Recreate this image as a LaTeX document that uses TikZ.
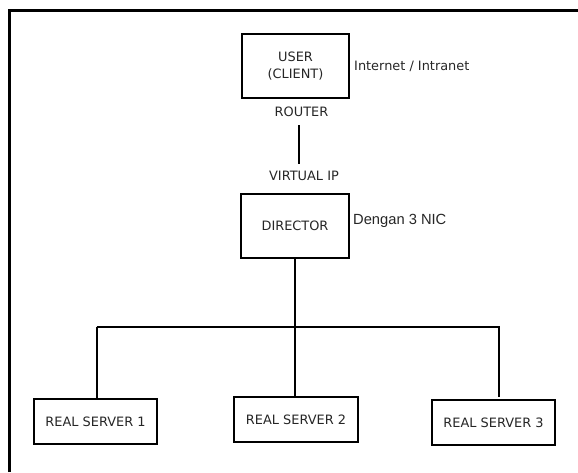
\documentclass[tikz,border=0pt]{standalone}
\usepackage{fontspec}
\setmainfont{DejaVu Sans}
\newfontfamily\arialfont{Liberation Sans}
\begin{document}
\begin{tikzpicture}[x=1pt,y=-1pt,
  box/.style={draw=black, line width=2pt, fill=white, align=center,
    text=black!85, font=\fontsize{12.9}{17}\selectfont, inner sep=0pt},
  lbl/.style={text=black!85, font=\fontsize{12.9}{15}\selectfont, inner sep=0pt},
  link/.style={draw=black, line width=2pt}]
  % canvas and frame
  \useasboundingbox (0,0) rectangle (578,472);
  \draw[line width=3pt] (9.5,472) -- (9.5,10.5) -- (578,10.5);

  % boxes
  \node[box, minimum width=107pt, minimum height=64pt] (user) at (295.5,66) {USER\\(CLIENT)};
  \node[box, minimum width=108pt, minimum height=64pt] (director) at (295,226) {DIRECTOR};
  \node[box, minimum width=123pt, minimum height=45pt] (rs1) at (95.5,421.5) {REAL SERVER 1};
  \node[box, minimum width=124pt, minimum height=45pt] (rs2) at (296,419.5) {REAL SERVER 2};
  \node[box, minimum width=123pt, minimum height=45pt] (rs3) at (493.5,422.5) {REAL SERVER 3};

  % labels
  \node[lbl, anchor=west] (net) at (354,66) {Internet / Intranet};
  \node[lbl] (router) at (301.5,112) {ROUTER};
  \node[lbl] (vip) at (304,176) {VIRTUAL IP};
  \node[anchor=west, inner sep=0pt, text=black!85, font=\arialfont\fontsize{14.7}{16}\selectfont] (nic) at (353,221) {Dengan 3 NIC};

  % router to virtual IP
  \coordinate (rtop) at (299,125);
  \coordinate (rbot) at (299,164);
  \draw[link] (rtop) -- (rbot);

  % director to the server bus
  \coordinate (busl) at (96.5,327);
  \coordinate (busr) at (500,327);
  \coordinate (drop3) at (499,397);
  \draw[link] (director.south) -- (director.south |- rs2.north);
  \draw[link] (busl) -- (busr);
  \draw[link] (busl) -- (busl |- rs1.north);
  \draw[link] (busr -| drop3) -- (drop3);
\end{tikzpicture}
\end{document}
